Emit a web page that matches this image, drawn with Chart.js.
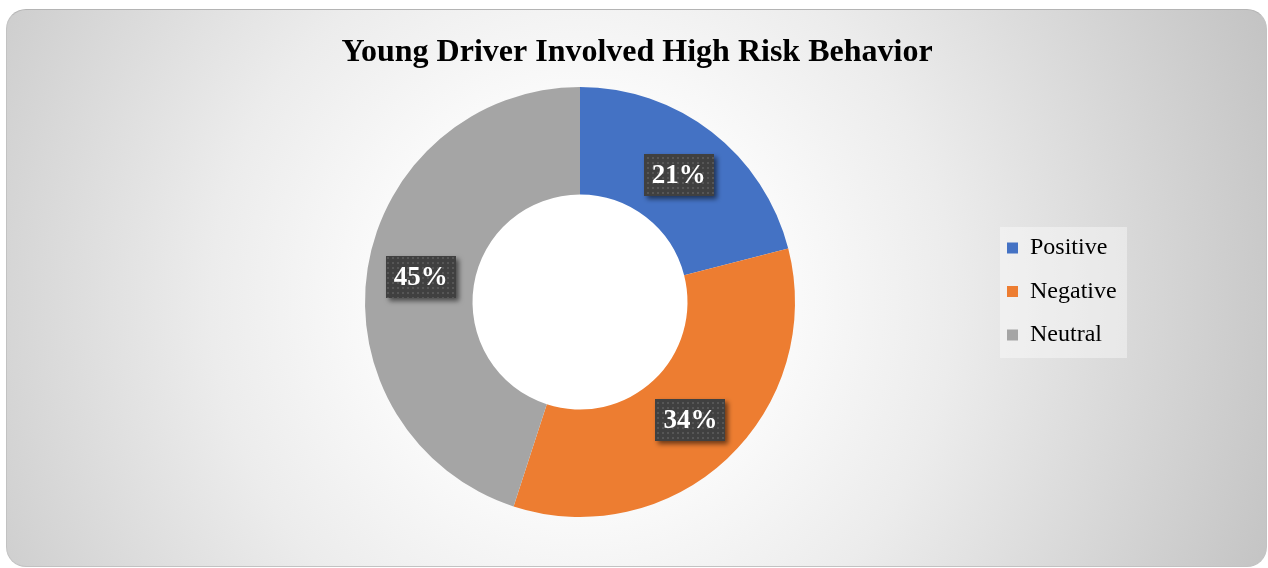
<!DOCTYPE html>
<html>
<head>
<meta charset="utf-8">
<title>Young Driver Involved High Risk Behavior</title>
<script src="https://cdn.jsdelivr.net/npm/chart.js@4.4.0/dist/chart.umd.min.js"></script>
<style>
body { margin:0; background:#fff; }
#card {
  position:absolute; left:6px; top:9px; width:1261px; height:558px;
  box-sizing:border-box; border-radius:20px;
  border:1px solid #c2c2c2; border-top-color:#b4b4b4;
  background: radial-gradient(circle farthest-corner at 575px 290px, #ffffff 0%, #ffffff 20%, #ececec 50%, #c3c3c3 100%);
}
#chart { position:absolute; left:0; top:0; }
</style>
</head>
<body>
<div id="card"></div>
<canvas id="chart" width="1268" height="568"></canvas>
<script>
var labels = ["Positive", "Negative", "Neutral"];
var shares = [21, 34, 45];
var colours = ["#4472C4", "#ED7D31", "#A5A5A5"];

var serif = '"Liberation Serif", "Times New Roman", serif';

// dark dotted fill used behind the percentage labels
var dots = document.createElement('canvas');
dots.width = 5; dots.height = 5;
var dctx = dots.getContext('2d');
dctx.fillStyle = '#404040'; dctx.fillRect(0, 0, 5, 5);
dctx.fillStyle = '#565656'; dctx.fillRect(2, 2, 2, 2);

var boxLabels = {
  id: 'boxLabels',
  afterDatasetsDraw: function(chart) {
    var ctx = chart.ctx;
    var meta = chart.getDatasetMeta(0);
    var pat = ctx.createPattern(dots, 'repeat');
    ctx.save();
    ctx.font = 'bold 27px ' + serif;
    ctx.textAlign = 'center';
    ctx.textBaseline = 'middle';
    meta.data.forEach(function(arc, i) {
      var p = arc.tooltipPosition();
      var txt = shares[i] + '%';
      var w = ctx.measureText(txt).width + 16, h = 42;
      ctx.shadowColor = 'rgba(0,0,0,0.55)';
      ctx.shadowBlur = 5;
      ctx.shadowOffsetX = 3;
      ctx.shadowOffsetY = 3;
      ctx.fillStyle = pat;
      ctx.fillRect(Math.round(p.x - w / 2), Math.round(p.y - h / 2), Math.round(w), h);
      ctx.shadowColor = 'transparent';
      ctx.fillStyle = '#ffffff';
      ctx.fillText(txt, p.x, p.y + 1);
    });
    ctx.restore();
  }
};

// move legend down to its spot, widen its clip, paint its pale backing
var legendBack = {
  id: 'legendBack',
  afterLayout: function(chart) {
    var lg = chart.legend;
    lg.top += 33;
    lg.bottom += 33;
    lg.left += 3;
    lg.right += 40;
    lg.width += 37;
  },
  beforeDraw: function(chart) {
    var hb = chart.legend.legendHitBoxes;
    if (!hb || !hb.length) return;
    var ctx = chart.ctx;
    var last = hb[hb.length - 1];
    ctx.save();
    ctx.fillStyle = 'rgba(255,255,255,0.4)';
    ctx.fillRect(hb[0].left - 7, hb[0].top - 9, 127, last.top + last.height - hb[0].top + 20);
    ctx.restore();
  }
};

var chart = new Chart(document.getElementById('chart'), {
  type: 'doughnut',
  data: {
    labels: labels,
    datasets: [{
      data: shares,
      backgroundColor: colours,
      borderWidth: 0
    }]
  },
  options: {
    responsive: false,
    animation: false,
    cutout: '50%',
    layout: { padding: { left: 175.5, right: 169.5, top: 0, bottom: 51 } },
    plugins: {
      tooltip: { enabled: false },
      title: {
        display: true,
        text: 'Young Driver Involved High Risk Behavior',
        color: '#000',
        font: { family: serif, size: 32, weight: 'bold', lineHeight: 1.2 },
        padding: { top: 34, bottom: 14.6 }
      },
      legend: {
        position: 'right',
        align: 'center',
        maxWidth: 114,
        labels: {
          color: '#000',
          font: { family: serif, size: 24 },
          boxWidth: 11,
          boxHeight: 11,
          padding: 19.5
        }
      }
    }
  },
  plugins: [legendBack, boxLabels]
});
</script>
</body>
</html>
